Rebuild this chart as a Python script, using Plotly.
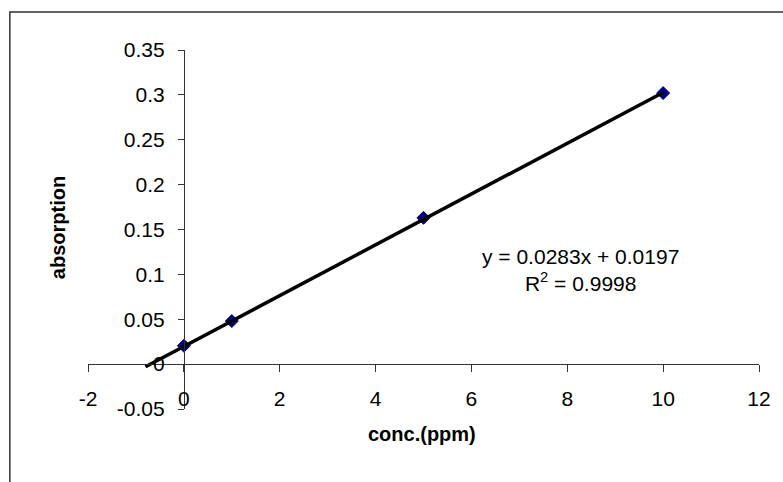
import plotly.graph_objects as go

# ---- data ----
conc = [0, 1, 5, 10]
absorption = [0.0205, 0.048, 0.163, 0.302]
slope = 0.0283
intercept = 0.0197
trend_x = [-0.8, 10]
x_ticks = [-2, 0, 2, 4, 6, 8, 10, 12]
x_ticktext = ["-2", "0", "2", "4", "6", "8", "10", "12"]
y_ticks = [-0.05, 0, 0.05, 0.1, 0.15, 0.2, 0.25, 0.3, 0.35]
y_ticktext = ["-0.05", "0", "0.05", "0.1", "0.15", "0.2", "0.25", "0.3", "0.35"]
eq_text = "y = 0.0283x + 0.0197<br>R<sup>2</sup> = 0.9998"

trend_y = [slope * v + intercept for v in trend_x]

FONT = "Liberation Sans, Arial, sans-serif"

x_min, x_max = -2, 12
y_min, y_max = -0.05, 0.35
L, R, T, B = 88, 762, 50, 409


def px2x(px):
    return x_min + (px - L) / (R - L) * (x_max - x_min)


def py2y(py):
    return y_max - (py - T) / (B - T) * (y_max - y_min)


fig = go.Figure()
fig.add_trace(go.Scatter(
    x=conc, y=absorption, mode="markers",
    marker=dict(symbol="diamond", size=10, color="#000080",
                line=dict(color="#000080", width=1)),
    showlegend=False))
fig.add_trace(go.Scatter(
    x=trend_x, y=trend_y, mode="lines",
    line=dict(color="black", width=3.5), showlegend=False))

fig.update_layout(
    width=783, height=482,
    margin=dict(l=L, r=783 - R, t=T, b=482 - B),
    paper_bgcolor="white", plot_bgcolor="white",
    font=dict(family=FONT, size=21, color="black"),
    xaxis=dict(range=[x_min, x_max], tickvals=x_ticks, ticktext=x_ticktext,
               showgrid=False, zeroline=False, showline=True,
               linecolor="#333333", linewidth=1, ticks="outside",
               ticklen=7, tickcolor="#333333", anchor="free",
               position=(0 - y_min) / (y_max - y_min),
               ticklabelstandoff=9,
               tickfont=dict(family=FONT, size=21, color="black")),
    yaxis=dict(range=[y_min, y_max], tickvals=y_ticks, ticktext=y_ticktext,
               showgrid=False, zeroline=False, showline=True,
               linecolor="#333333", linewidth=1, ticks="outside",
               ticklen=6, tickcolor="#333333", anchor="free",
               position=(0 - x_min) / (x_max - x_min),
               ticklabelstandoff=9,
               tickfont=dict(family=FONT, size=21, color="black")),
    annotations=[
        dict(text="<b>conc.(ppm)</b>", xref="paper", yref="paper",
             x=(423 - L) / (R - L), y=(B - 447) / (B - T), showarrow=False,
             font=dict(family=FONT, size=20, color="black")),
        dict(text="<b>absorption</b>", xref="paper", yref="paper",
             x=(45 - L) / (R - L), y=(B - 228) / (B - T), showarrow=False,
             textangle=-90, font=dict(family=FONT, size=20, color="black")),
        dict(text=eq_text, xref="x", yref="y", x=px2x(583), y=py2y(270),
             showarrow=False, align="center",
             font=dict(family=FONT, size=21, color="black")),
    ],
    shapes=[
        dict(type="rect", xref="paper", yref="paper",
             x0=(9.5 - L) / (R - L), x1=(800 - L) / (R - L),
             y0=(B - 500) / (B - T), y1=(B - 12) / (B - T),
             line=dict(color="#333333", width=1.5), layer="below"),
    ],
)

fig.write_html("out.html")
